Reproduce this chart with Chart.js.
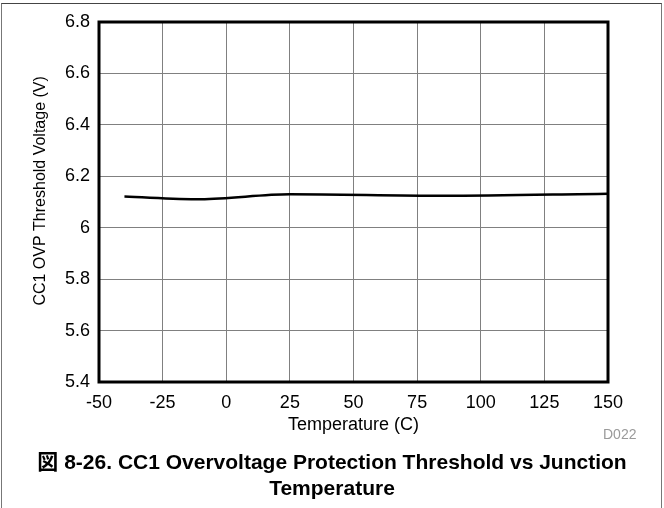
<!DOCTYPE html>
<html>
<head>
<meta charset="utf-8">
<script src="https://cdn.jsdelivr.net/npm/chart.js@4.4.0/dist/chart.umd.min.js"></script>
<style>
  body { margin: 0; background: #fff; }
  #wrap { position: relative; width: 664px; height: 508px; overflow: hidden; }
  #frame { position: absolute; left: 1px; top: 3px; width: 659px; height: 520px;
           border-top: 1px solid #444; border-left: 1px solid #777; border-right: 1px solid #777; }
  #code { position: absolute; left: 603px; top: 426px; font: 14px "Liberation Sans", Arial, sans-serif; color: #9a9a9a; }
  #caption { position: absolute; left: 0; width: 664px; top: 449px; text-align: center;
             font: bold 21px "Liberation Sans", Arial, "Noto Sans CJK JP", sans-serif; line-height: 26px; color: #000; }
</style>
</head>
<body>
<div id="wrap">
  <canvas id="myChart" width="664" height="508"></canvas>
  <div id="frame"></div>
  <div id="code">D022</div>
  <div id="caption">図 8-26. CC1 Overvoltage Protection Threshold vs Junction<br>Temperature</div>
</div>
<script>
// data
const temps = [-40, -10, 25, 85, 150];
const ovpVolts = [6.121, 6.111, 6.130, 6.124, 6.132];

const xTicks = [-50, -25, 0, 25, 50, 75, 100, 125, 150];
const yTicks = [5.4, 5.6, 5.8, 6.0, 6.2, 6.4, 6.6, 6.8];

const fontFam = "'Liberation Sans', Arial, sans-serif";

// thick black box round the plot area
const plotBox = {
  id: 'plotBox',
  afterDatasetsDraw(chart) {
    const a = chart.chartArea;
    const ctx = chart.ctx;
    ctx.save();
    ctx.strokeStyle = '#000';
    ctx.lineWidth = 3;
    ctx.strokeRect(a.left, a.top, a.right - a.left, a.bottom - a.top);
    ctx.restore();
  }
};

var ctx = document.getElementById('myChart').getContext('2d');

var myChart = new Chart(ctx, {
  type: 'line',
  data: {
    datasets: [{
      data: temps.map((t, i) => ({ x: t, y: ovpVolts[i] })),
      borderColor: '#000',
      borderWidth: 2.5,
      pointRadius: 0,
      cubicInterpolationMode: 'monotone',
      fill: false
    }]
  },
  options: {
    responsive: false,
    animation: false,
    layout: { padding: { left: 0, top: 22, right: 56, bottom: 70 } },
    plugins: { legend: { display: false }, tooltip: { enabled: false } },
    scales: {
      x: {
        type: 'linear',
        min: -50,
        max: 150,
        afterBuildTicks: (s) => { s.ticks = xTicks.map(v => ({ value: v })); },
        afterFit: (s) => { s.height = 56; },
        grid: { color: '#808080', lineWidth: 1, drawTicks: false },
        border: { display: false },
        ticks: { color: '#000', font: { family: fontFam, size: 18 }, padding: 10, maxRotation: 0 },
        title: { display: true, text: 'Temperature (C)', color: '#000', font: { family: fontFam, size: 18 }, padding: { top: 0, bottom: 2 } }
      },
      y: {
        min: 5.4,
        max: 6.8,
        afterBuildTicks: (s) => { s.ticks = yTicks.map(v => ({ value: v })); },
        afterFit: (s) => { s.width = 99; },
        grid: { color: '#808080', lineWidth: 1, drawTicks: false },
        border: { display: false },
        ticks: {
          color: '#000', font: { family: fontFam, size: 18 }, padding: 9,
          callback: (v) => String(Number(v.toFixed(1)))
        },
        // leading spaces nudge the title up a little, as in the original
        title: { display: true, text: '     CC1 OVP Threshold Voltage (V)', color: '#000', font: { family: fontFam, size: 16 }, padding: { top: 31, bottom: 0 } }
      }
    }
  },
  plugins: [plotBox]
});
</script>
</body>
</html>
